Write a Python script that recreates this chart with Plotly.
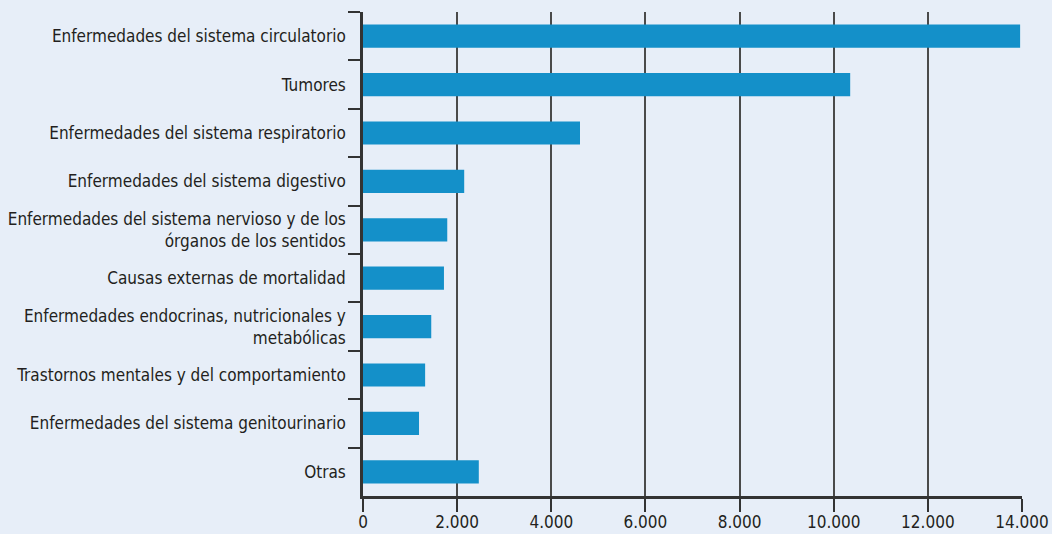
import plotly.graph_objects as go

categorias = [
    "Enfermedades del sistema circulatorio",
    "Tumores",
    "Enfermedades del sistema respiratorio",
    "Enfermedades del sistema digestivo",
    "Enfermedades del sistema nervioso y de los<br>órganos de los sentidos",
    "Causas externas de mortalidad",
    "Enfermedades endocrinas, nutricionales y<br>metabólicas",
    "Trastornos mentales y del comportamiento",
    "Enfermedades del sistema genitourinario",
    "Otras",
]
valores = [13960, 10350, 4610, 2150, 1790, 1720, 1450, 1320, 1190, 2460]
ticks_x = [0, 2000, 4000, 6000, 8000, 10000, 12000, 14000]

FONT = "Liberation Sans Narrow, DejaVu Sans Condensed, Arial Narrow, sans-serif"
BG = "#e7eef8"

fig = go.Figure(go.Bar(
    x=valores, y=categorias, orientation="h",
    marker=dict(color="#1490c9", line=dict(width=0)),
))

fig.update_layout(
    width=1052, height=534,
    margin=dict(l=363, r=30, t=12, b=38, autoexpand=False),
    paper_bgcolor=BG, plot_bgcolor=BG,
    font=dict(family=FONT, size=17, color="#231f20"),
    separators=",.",
    bargap=0.52,
    showlegend=False,
)
fig.update_xaxes(
    range=[0, 14000], tickvals=ticks_x, tickformat=",d",
    showgrid=True, gridcolor="#4a4a4a", gridwidth=2,
    showline=True, linecolor="#333333", linewidth=2.5,
    ticks="outside", ticklen=13, tickwidth=2, tickcolor="#333333",
    zeroline=False, fixedrange=True, tickfont=dict(size=17), automargin=False,
    ticklabelstandoff=-4,
)
fig.update_yaxes(
    autorange="reversed", categoryorder="array", categoryarray=categorias,
    showline=True, linecolor="#333333", linewidth=2.5,
    ticks="outside", tickson="boundaries", ticklen=12, tickwidth=2, tickcolor="#333333",
    showgrid=False, fixedrange=True, ticklabelstandoff=11, automargin=False,
)

fig.write_html(
    "out.html",
    config={"displayModeBar": False},
    post_script=(
        "document.body.style.margin='0';document.body.style.padding='0';"
        "document.body.style.overflow='hidden';"
        "document.body.style.background='" + BG + "';"
    ),
)
